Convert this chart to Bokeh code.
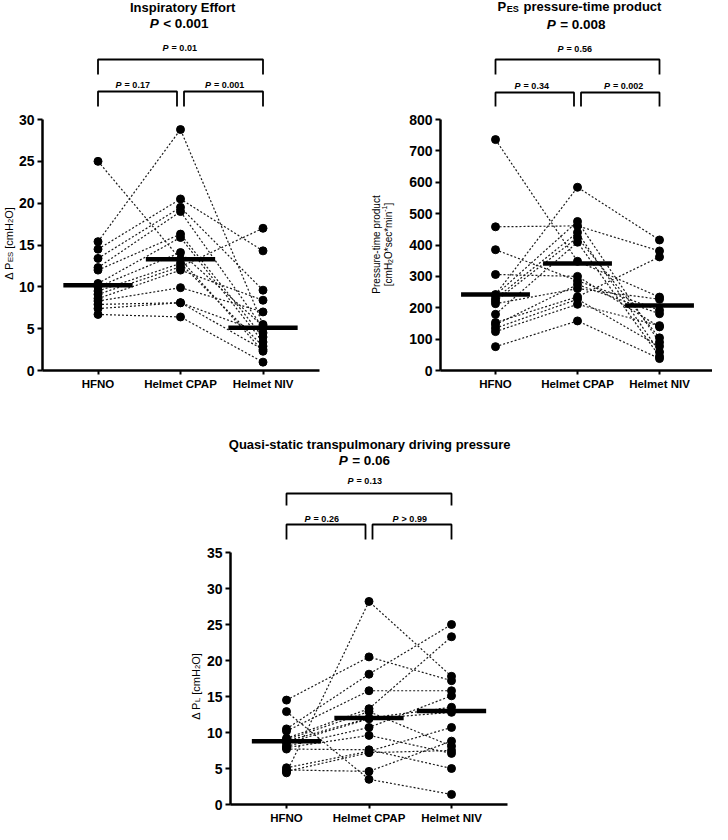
from bokeh.plotting import figure
from bokeh.models import Range1d, Label, FixedTicker
from bokeh.layouts import column, row
from bokeh.embed import file_html
from bokeh.resources import INLINE

groups = ["HFNO", "Helmet CPAP", "Helmet NIV"]

# Panel A: inspiratory effort, delta P_ES (cmH2O), one entry per subject
pes_hfno = [25.0, 15.4, 14.5, 13.4, 12.3, 12.0, 10.4, 10.0, 9.5, 9.1, 8.6, 8.3, 7.9, 7.4, 6.7]
pes_cpap = [13.3, 28.8, 20.5, 19.5, 19.0, 16.3, 15.9, 14.1, 12.8, 12.4, 12.0, 9.9, 8.1, 8.1, 6.4]
pes_niv = [2.3, 5.5, 14.3, 9.6, 5.1, 4.0, 3.4, 5.3, 2.9, 17.0, 8.4, 7.0, 4.5, 2.5, 1.0]
pes_center = [10.2, 13.3, 5.1]
pes_ticks = [0, 5, 10, 15, 20, 25, 30]
pes_overall = ("<", "0.001")
pes_pairs = [("=", "0.17"), ("=", "0.001"), ("=", "0.01")]

# Panel B: P_ES pressure-time product
ptp_hfno = [736, 458, 385, 306, 242, 240, 229, 221, 213, 179, 153, 146, 135, 124, 76]
ptp_cpap = [348, 461, 286, 300, 584, 475, 440, 424, 261, 409, 235, 274, 227, 211, 158]
ptp_niv = [234, 381, 192, 139, 416, 90, 59, 104, 227, 45, 362, 181, 77, 143, 38]
ptp_center = [242, 341, 207]
ptp_ticks = [0, 100, 200, 300, 400, 500, 600, 700, 800]
ptp_overall = ("=", "0.008")
ptp_pairs = [("=", "0.34"), ("=", "0.002"), ("=", "0.56")]

# Panel C: quasi-static transpulmonary driving pressure, delta P_L
pl_hfno = [14.5, 12.9, 10.5, 10.2, 9.2, 9.0, 8.8, 8.5, 8.1, 7.9, 7.7, 5.1, 4.8, 4.6, 4.4]
pl_cpap = [20.5, 3.5, 18.1, 15.8, 13.3, 12.9, 12.0, 11.9, 10.7, 9.6, 7.6, 7.4, 4.6, 7.2, 28.2]
pl_niv = [17.2, 1.4, 25.0, 15.8, 23.3, 8.1, 13.5, 12.8, 15.1, 7.1, 5.0, 10.7, 8.8, 7.5, 17.8]
pl_center = [8.8, 12.0, 13.0]
pl_ticks = [0, 5, 10, 15, 20, 25, 30, 35]
pl_overall = ("=", "0.06")
pl_pairs = [("=", "0.26"), (">", "0.99"), ("=", "0.13")]

FONT = "Liberation Sans"

CW = {' ': .278, '-': .333, '.': .278, '[': .278, ']': .278, '*': .389, '<': .584, '=': .584, '>': .584,
      'Δ': .668, 'A': .667, 'B': .667, 'C': .722, 'D': .722, 'E': .667, 'F': .611, 'G': .778, 'H': .722,
      'I': .278, 'J': .5, 'K': .667, 'L': .556, 'M': .833, 'N': .722, 'O': .778, 'P': .667, 'Q': .778,
      'R': .722, 'S': .667, 'T': .611, 'U': .722, 'V': .667, 'W': .944, 'X': .667, 'Y': .667, 'Z': .611,
      'a': .556, 'b': .556, 'c': .5, 'd': .556, 'e': .556, 'f': .278, 'g': .556, 'h': .556, 'i': .222,
      'j': .222, 'k': .5, 'l': .222, 'm': .833, 'n': .556, 'o': .556, 'p': .556, 'q': .556, 'r': .333,
      's': .5, 't': .278, 'u': .556, 'v': .5, 'w': .722, 'x': .5, 'y': .5, 'z': .5}


def tw(s, size, bold):
    w = sum(CW.get(c, 0.556) for c in s) * size
    return w * (1.06 if bold else 1.0)


def rich(p, geo, page_x, page_y, pieces, size, bold=True, angle=0.0):
    """Run of text pieces centred on page_x (or page_y if rotated); baseline on the other coordinate."""
    sizes = [size * 0.7 if st in ("sub", "sup") else size for _, st in pieces]
    widths = [tw(t, s, bold) for (t, _), s in zip(pieces, sizes)]
    pos = -sum(widths) / 2.0
    sx0 = page_x - geo["fx"]
    sy0 = geo["fy"] + geo["h"] - page_y
    for (t, st), s, w in zip(pieces, sizes, widths):
        lead = len(t) - len(t.lstrip(" "))
        shift = tw(" " * lead, s, bold)
        off = -0.22 * size if st == "sub" else (0.4 * size if st == "sup" else 0.0)
        if angle == 0:
            x, y = sx0 + pos + shift, sy0 + off
        else:
            x, y = sx0 - off, sy0 + pos + shift
        style = "normal"
        if st == "i":
            style = "bold italic" if bold else "italic"
        elif bold:
            style = "bold"
        p.add_layout(Label(x=x, y=y, x_units="screen", y_units="screen", text=t.strip(" "), angle=angle,
                           text_font=FONT, text_font_size=f"{s}px", text_font_style=style,
                           text_align="left", text_baseline="alphabetic", text_color="black"))
        pos += w


def panel(geo, hf, cp, nv, center, ticks, overall, pairs, title_pieces, ylabels, tpos, ppos, brk):
    fx, fy, w, h = geo["fx"], geo["fy"], geo["w"], geo["h"]
    c0, dx, ax_y, ppu = geo["c0"], geo["dx"], geo["ax"], geo["ppu"]
    # frame covers the whole canvas; axes are pinned with fixed_location
    x0 = (fx - c0) / dx
    x1 = (fx + w - c0) / dx
    y0 = (ax_y - (fy + h)) / ppu
    y1 = (ax_y - fy) / ppu
    xa = (geo["fl"] - c0) / dx
    xb = (geo["fr"] - c0) / dx
    p = figure(width=w, height=h, x_range=Range1d(x0, x1), y_range=Range1d(y0, y1),
               output_backend="svg", toolbar_location=None,
               min_border_left=0, min_border_right=0, min_border_top=0, min_border_bottom=0)
    p.outline_line_color = None
    p.xgrid.visible = False
    p.ygrid.visible = False
    p.background_fill_color = "white"
    p.border_fill_color = "white"

    p.xaxis.fixed_location = ticks[0]
    p.yaxis.fixed_location = xa
    p.xaxis.ticker = FixedTicker(ticks=[0, 1, 2])
    p.xaxis.major_label_overrides = {i: g for i, g in enumerate(groups)}
    p.xaxis.bounds = (xa, xb)
    p.yaxis.ticker = FixedTicker(ticks=ticks)
    p.yaxis.bounds = (ticks[0], ticks[-1])
    for ax in (p.xaxis, p.yaxis):
        ax.axis_line_width = 2.5
        ax.axis_line_color = "black"
        ax.major_tick_line_width = 2
        ax.major_tick_line_color = "black"
        ax.major_tick_in = 0
        ax.minor_tick_line_color = None
        ax.major_label_text_font = FONT
        ax.major_label_text_font_style = "bold"
        ax.major_label_text_color = "black"
    p.xaxis.major_tick_out = 4
    p.yaxis.major_tick_out = 5
    p.xaxis.major_label_text_font_size = "11.5px"
    p.yaxis.major_label_text_font_size = "14px"
    p.xaxis.major_label_standoff = 3
    p.yaxis.major_label_standoff = 3

    xs = [[0, 1, 2] for _ in hf]
    ys = [[a, b, c] for a, b, c in zip(hf, cp, nv)]
    p.multi_line(xs, ys, line_color="#1a1a1a", line_width=1.2, line_dash="2 2")
    hw = 0.42
    p.segment(x0=[i - hw for i in range(3)], y0=center, x1=[i + hw for i in range(3)], y1=center,
              line_color="black", line_width=4.5)
    for i, vals in enumerate((hf, cp, nv)):
        p.scatter([i] * len(vals), vals, size=8, color="black")

    # significance brackets (page-y levels converted through the axis scale)
    d = lambda py: (ax_y - py) / ppu
    gap = 3.5 / dx
    (t_top, t_bot), (l_top, l_bot) = brk
    bx = [[0, 0, 2, 2], [0, 0, 1 - gap, 1 - gap], [1 + gap, 1 + gap, 2, 2]]
    by = [[d(t_bot), d(t_top), d(t_top), d(t_bot)],
          [d(l_bot), d(l_top), d(l_top), d(l_bot)],
          [d(l_bot), d(l_top), d(l_top), d(l_bot)]]
    p.multi_line(bx, by, line_color="black", line_width=1.8)

    # titles
    rich(p, geo, tpos[0], tpos[1], title_pieces, 13, bold=True)
    rich(p, geo, tpos[0], tpos[2], [("P", "i"), (f" {overall[0]} {overall[1]}", "n")], 13.5, bold=True)
    # pairwise P labels
    for (sym, v), (cx, by_) in zip(pairs, ppos):
        rich(p, geo, cx, by_, [("P", "i"), (f" {sym} {v}", "n")], 9, bold=True)
    # y-axis label(s), rotated
    for (bx_, cy, pieces, size) in ylabels:
        rich(p, geo, bx_, cy, pieces, size, bold=False, angle=1.5707963)
    return p


g1 = dict(fx=8, fy=8, w=355, h=410, fl=50, fr=327, ax=378, ppu=251 / 30, c0=105.5, dx=82.5)
g2 = dict(fx=363, fy=8, w=357, h=410, fl=448, fr=720, ax=378, ppu=251 / 800, c0=503, dx=82)
g3 = dict(fx=8, fy=418, w=712, h=414, fl=238, fr=515, ax=812, ppu=252 / 35, c0=294, dx=82.5)

p1 = panel(g1, pes_hfno, pes_cpap, pes_niv, pes_center, pes_ticks, pes_overall, pes_pairs,
           [("Inspiratory Effort", "n")],
           [(16, 251, [("Δ P", "n"), ("ES", "sub"), (" [cmH", "n"), ("2", "sub"), ("O]", "n")], 11)],
           (188, 15, 31), [(141, 92), (233, 92), (188, 55)], ((67, 82), (99, 114)))

p2 = panel(g2, ptp_hfno, ptp_cpap, ptp_niv, ptp_center, ptp_ticks, ptp_overall, ptp_pairs,
           [("P", "n"), ("ES", "sub"), (" pressure-time product", "n")],
           [(384, 252, [("Pressure-time product", "n")], 10),
            (396, 252, [("[cmH", "n"), ("2", "sub"), ("O*sec*min", "n"), ("-1", "sup"), ("]", "n")], 10)],
           (585, 14, 31.5), [(540, 93), (632, 93), (583, 56)], ((67, 82), (100, 114)))

p3 = panel(g3, pl_hfno, pl_cpap, pl_niv, pl_center, pl_ticks, pl_overall, pl_pairs,
           [("Quasi-static transpulmonary driving pressure", "n")],
           [(203, 694, [("Δ P", "n"), ("L", "sub"), (" [cmH", "n"), ("2", "sub"), ("O]", "n")], 11)],
           (373, 452, 468), [(330, 526), (418, 526), (373, 488)], ((501, 513), (532, 547)))

layout = column(row(p1, p2), p3)
open("out.html", "w").write(file_html(layout, INLINE))
